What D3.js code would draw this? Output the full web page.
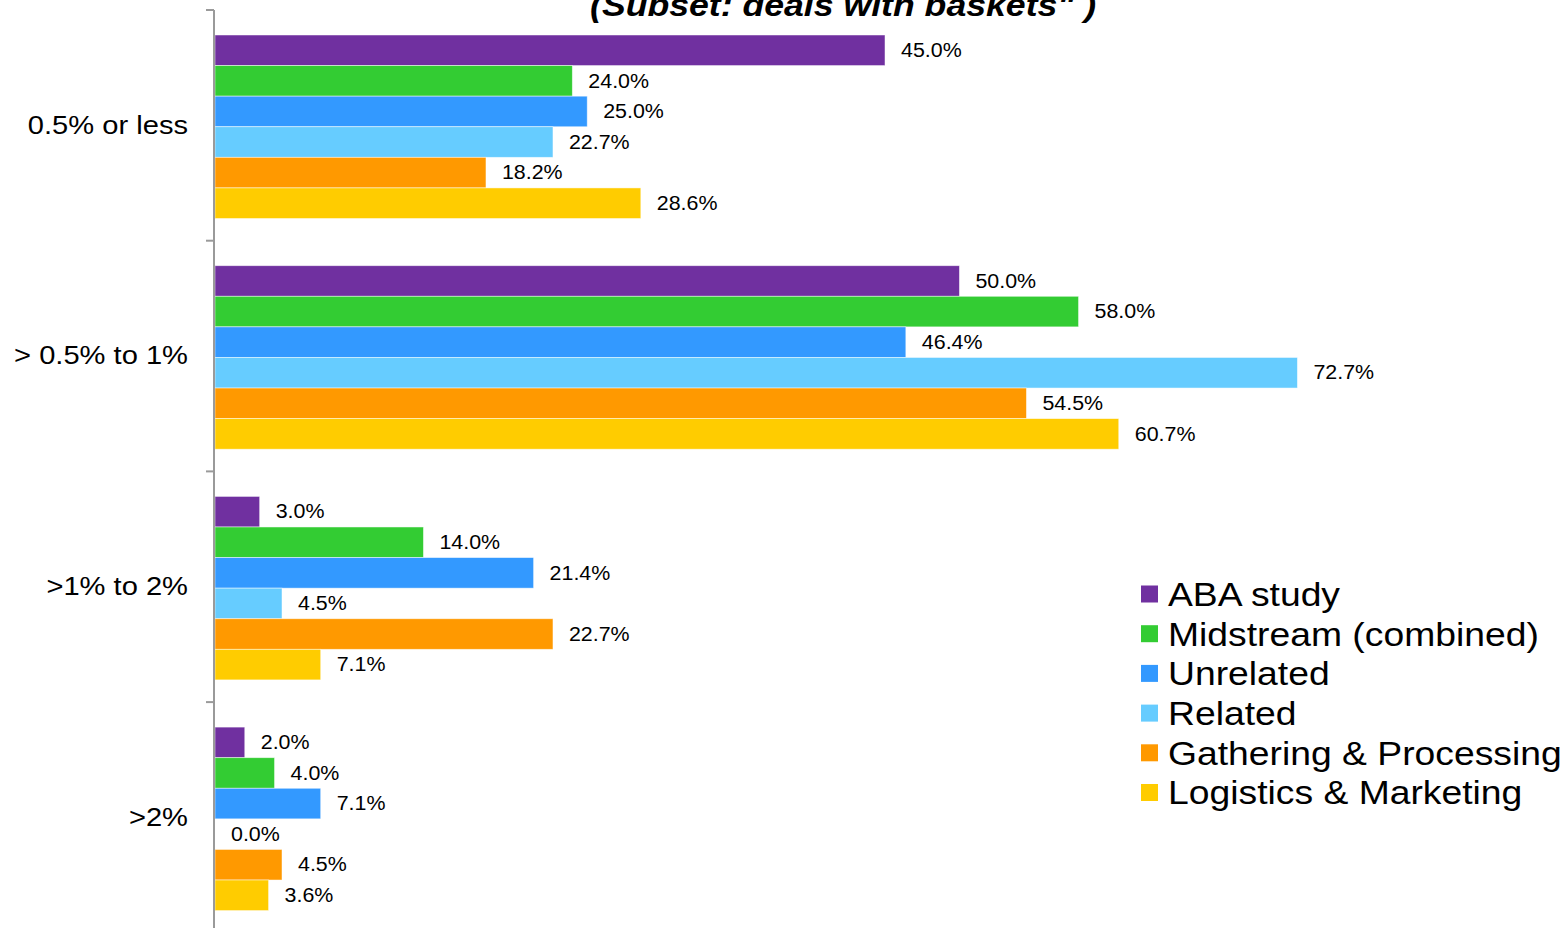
<!DOCTYPE html>
<html>
<head>
<meta charset="utf-8">
<script src="https://cdn.jsdelivr.net/npm/d3@7"></script>
<style>
  html, body { margin: 0; padding: 0; background: #fff; }
  svg { display: block; font-family: "Liberation Sans", Arial, sans-serif; }
</style>
</head>
<body>
<svg id="chart" width="1566" height="928"></svg>
<script>
// Categories (premium ranges) shown on the vertical axis
const categories = ["0.5% or less", "> 0.5% to 1%", ">1% to 2%", ">2%"];
// Series names for the legend and bar groups
const seriesNames = ["ABA study", "Midstream (combined)", "Unrelated", "Related", "Gathering & Processing", "Logistics & Marketing"];
const seriesColors = ["#7030A0", "#33CC33", "#3399FF", "#66CCFF", "#FF9900", "#FFCC00"];
// Percent values per series, ordered as categories
const abaStudy    = [45.0, 50.0, 3.0, 2.0];
const midstream   = [24.0, 58.0, 14.0, 4.0];
const unrelated   = [25.0, 46.4, 21.4, 7.1];
const related     = [22.7, 72.7, 4.5, 0.0];
const gathering   = [18.2, 54.5, 22.7, 4.5];
const logistics   = [28.6, 60.7, 7.1, 3.6];
const seriesValues = [abaStudy, midstream, unrelated, related, gathering, logistics];
const titleText = '(Subset: deals with baskets" )';

const svg = d3.select("#chart");
const axisX = 214;
const plotLeft = 215;

// Text in this chart is set slightly wide; stretch horizontally around its anchor
function wideText(sel, sx, xFn, yFn) {
  sel.attr("x", 0).attr("y", 0)
     .attr("transform", (d, i) => `translate(${xFn(d, i)},${yFn(d, i)}) scale(${sx},1)`);
}

const x = d3.scaleLinear().domain([0, 45]).range([plotLeft, 885]);
const y = d3.scaleBand().domain(categories).range([10, 932.8]).paddingInner(0).paddingOuter(0);
const inner = d3.scaleBand().domain(seriesNames).range([25, 208.5]);

// Title (partly above the visible area)
svg.append("text")
  .attr("text-anchor", "middle")
  .style("font-size", "31px").style("font-weight", "bold").style("font-style", "italic")
  .attr("fill", "#000")
  .text(titleText)
  .call(wideText, 1.15, () => 843, () => 16);

// Bars
const rows = [];
categories.forEach((c, ci) => {
  seriesNames.forEach((s, si) => {
    rows.push({ cat: c, series: s, value: seriesValues[si][ci], color: seriesColors[si] });
  });
});

const g = svg.append("g");
g.selectAll("rect.bar").data(rows).enter().append("rect")
  .attr("class", "bar")
  .attr("x", x(0))
  .attr("y", d => y(d.cat) + inner(d.series))
  .attr("width", d => Math.max(0, x(d.value) - x(0)))
  .attr("height", inner.bandwidth())
  .attr("fill", d => d.color)
  .attr("stroke", d => d.value > 0 ? "#fff" : "none")
  .attr("stroke-width", 0.8)
  .attr("stroke-opacity", 0.6);

g.selectAll("text.val").data(rows).enter().append("text")
  .attr("class", "val")
  .attr("dy", "0.36em")
  .style("font-size", "20px")
  .attr("fill", "#000")
  .text(d => d.value.toFixed(1) + "%")
  .call(wideText, 1.07, d => x(d.value) + 16, d => y(d.cat) + inner(d.series) + inner.bandwidth() / 2 - 0.5);

// Category axis
const axis = svg.append("g").attr("transform", `translate(${axisX},0)`)
  .call(d3.axisLeft(y).tickSize(0).tickPadding(26));
axis.select(".domain").remove();
const catSx = 1.12;
axis.selectAll("text")
  .style("font-size", "26px").attr("fill", "#000")
  .style("font-family", "'Liberation Sans', Arial, sans-serif")
  .attr("x", -26 / catSx)
  .attr("transform", `scale(${catSx},1)`);

// Axis line and boundary ticks
const boundaries = categories.map(c => y(c)).concat([y.range()[1]]);
svg.append("line")
  .attr("x1", axisX).attr("x2", axisX)
  .attr("y1", boundaries[0]).attr("y2", 928)
  .attr("stroke", "#9a9a9a").attr("stroke-width", 2);
svg.selectAll("line.btick").data(boundaries).enter().append("line")
  .attr("class", "btick")
  .attr("x1", axisX - 8).attr("x2", axisX)
  .attr("y1", d => d).attr("y2", d => d)
  .attr("stroke", "#9a9a9a").attr("stroke-width", 2);

// Legend
const legend = svg.append("g").attr("transform", "translate(1141,594)");
const li = legend.selectAll("g").data(seriesNames).enter().append("g")
  .attr("transform", (d, i) => `translate(0,${i * 39.7})`);
li.append("rect").attr("x", 0).attr("y", -8.5).attr("width", 17).attr("height", 17)
  .attr("fill", (d, i) => seriesColors[i]);
li.append("text").attr("dy", "0.35em")
  .style("font-size", "34px").attr("fill", "#000").text(d => d)
  .call(wideText, 1.097, () => 27, () => 0);
</script>
</body>
</html>
